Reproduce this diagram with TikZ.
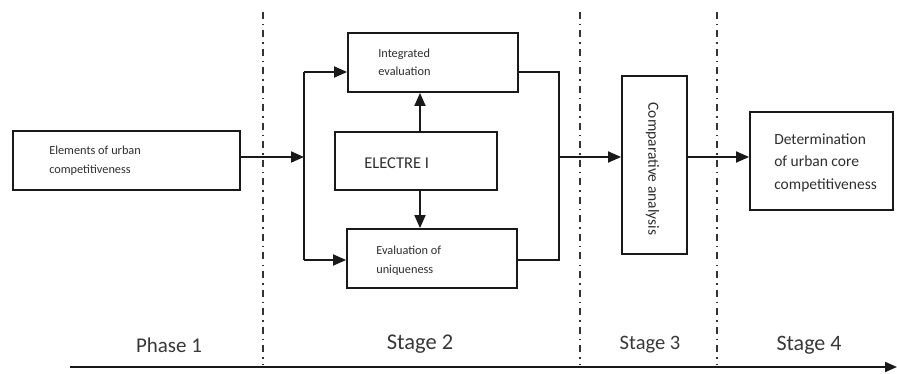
\documentclass[tikz,border=0pt]{standalone}
\usepackage{fontspec}
\setmainfont{Carlito}
\usetikzlibrary{arrows.meta}
\begin{document}
\begin{tikzpicture}[x=1pt,y=-1pt,
  box/.style={draw=black!90, line width=1.8pt, inner sep=0pt},
  txt/.style={anchor=west, align=left, inner sep=0pt, text=black!82},
  small/.style={font=\fontsize{12.3}{18.5}\selectfont},
  arr/.style={draw=black!90, line width=1.8pt, -{Triangle[length=13pt,width=11pt]}},
  conn/.style={draw=black!90, line width=1.8pt},
  sep/.style={draw=black!80, line width=1.6pt, dash pattern=on 7pt off 5pt on 1.5pt off 5pt},
  stagelbl/.style={text=black!78, inner sep=0pt, font=\fontsize{21}{24}\selectfont}
]
\useasboundingbox (0,0) rectangle (897,374);

% separators
\coordinate (s1t) at (263,12);  \coordinate (s1b) at (263,365);
\coordinate (s2t) at (580,12);  \coordinate (s2b) at (580,365);
\coordinate (s3t) at (717,12);  \coordinate (s3b) at (717,365);
\draw[sep] (s1t) -- (s1b);
\draw[sep] (s2t) -- (s2b);
\draw[sep] (s3t) -- (s3b);

% boxes
\node[box, minimum width=227pt, minimum height=59pt] (elem) at (126.5,160.5) {};
\node[txt, small] (elemtxt) at ([xshift=37pt]elem.west) {Elements of urban\\competitiveness};

\node[box, minimum width=170pt, minimum height=59pt] (integ) at (433,62.5) {};
\node[txt, small] (integtxt) at ([xshift=31pt]integ.west) {Integrated\\evaluation};

\node[box, minimum width=162pt, minimum height=58pt] (electre) at (416,161) {};
\node[txt, font=\fontsize{16.5}{19}\selectfont] (electretxt) at ([xshift=30pt,yshift=-2pt]electre.west) {ELECTRE I};

\node[box, minimum width=170pt, minimum height=59pt] (uniq) at (432,258.5) {};
\node[txt, small] (uniqtxt) at ([xshift=30pt,yshift=-2pt]uniq.west) {Evaluation of\\uniqueness};

\node[box, minimum width=65pt, minimum height=178pt] (comp) at (654.5,165) {};
\node[inner sep=0pt, rotate=-90, text=black!82, font=\fontsize{15.5}{18}\selectfont] (comptxt) at ([xshift=-2pt,yshift=-4pt]comp.center) {Comparative analysis};

\node[box, minimum width=143pt, minimum height=98pt] (det) at (821.5,161) {};
\node[txt, font=\fontsize{15.5}{22.5}\selectfont] (dettxt) at ([xshift=25pt,yshift=-1.5pt]det.west) {Determination\\of urban core\\competitiveness};

% junctions
\coordinate (jl) at (304,157);
\coordinate (jlt) at (304,72);
\coordinate (jlb) at (304,260);
\coordinate (jr) at (559,157);
\coordinate (jrt) at (559,72);
\coordinate (jrb) at (559,260);

% connectors
\draw[arr] (elem.east |- jl) -- (jl);
\draw[conn] (jlt) -- (jlb);
\draw[arr] (jlt) -- (integ.west |- jlt);
\draw[arr] (jlb) -- (uniq.west |- jlb);
\draw[conn] (integ.east |- jrt) -- (jrt) -- (jrb) -- (uniq.east |- jrb);
\draw[arr] (electre.north -| 420,0) -- (integ.south -| 420,0);
\draw[arr] (electre.south -| 420,0) -- (uniq.north -| 420,0);
\draw[arr] (jr) -- (comp.west |- jr);
\draw[arr] (comp.east |- jr) -- (det.west |- jr);

% stage labels
\node[stagelbl] (ph1) at (169,345) {Phase 1};
\node[stagelbl, font=\fontsize{22.5}{25}\selectfont] (st2) at (420,344) {Stage 2};
\node[stagelbl, font=\fontsize{20.5}{24}\selectfont] (st3) at (650,345) {Stage 3};
\node[stagelbl, font=\fontsize{22}{25}\selectfont] (st4) at (809,345) {Stage 4};

% axis
\coordinate (ax0) at (70,367);
\coordinate (ax1) at (897,367);
\draw[draw=black!90, line width=1.9pt, -{Triangle[length=12pt,width=10pt]}] (ax0) -- (ax1);
\end{tikzpicture}
\end{document}
